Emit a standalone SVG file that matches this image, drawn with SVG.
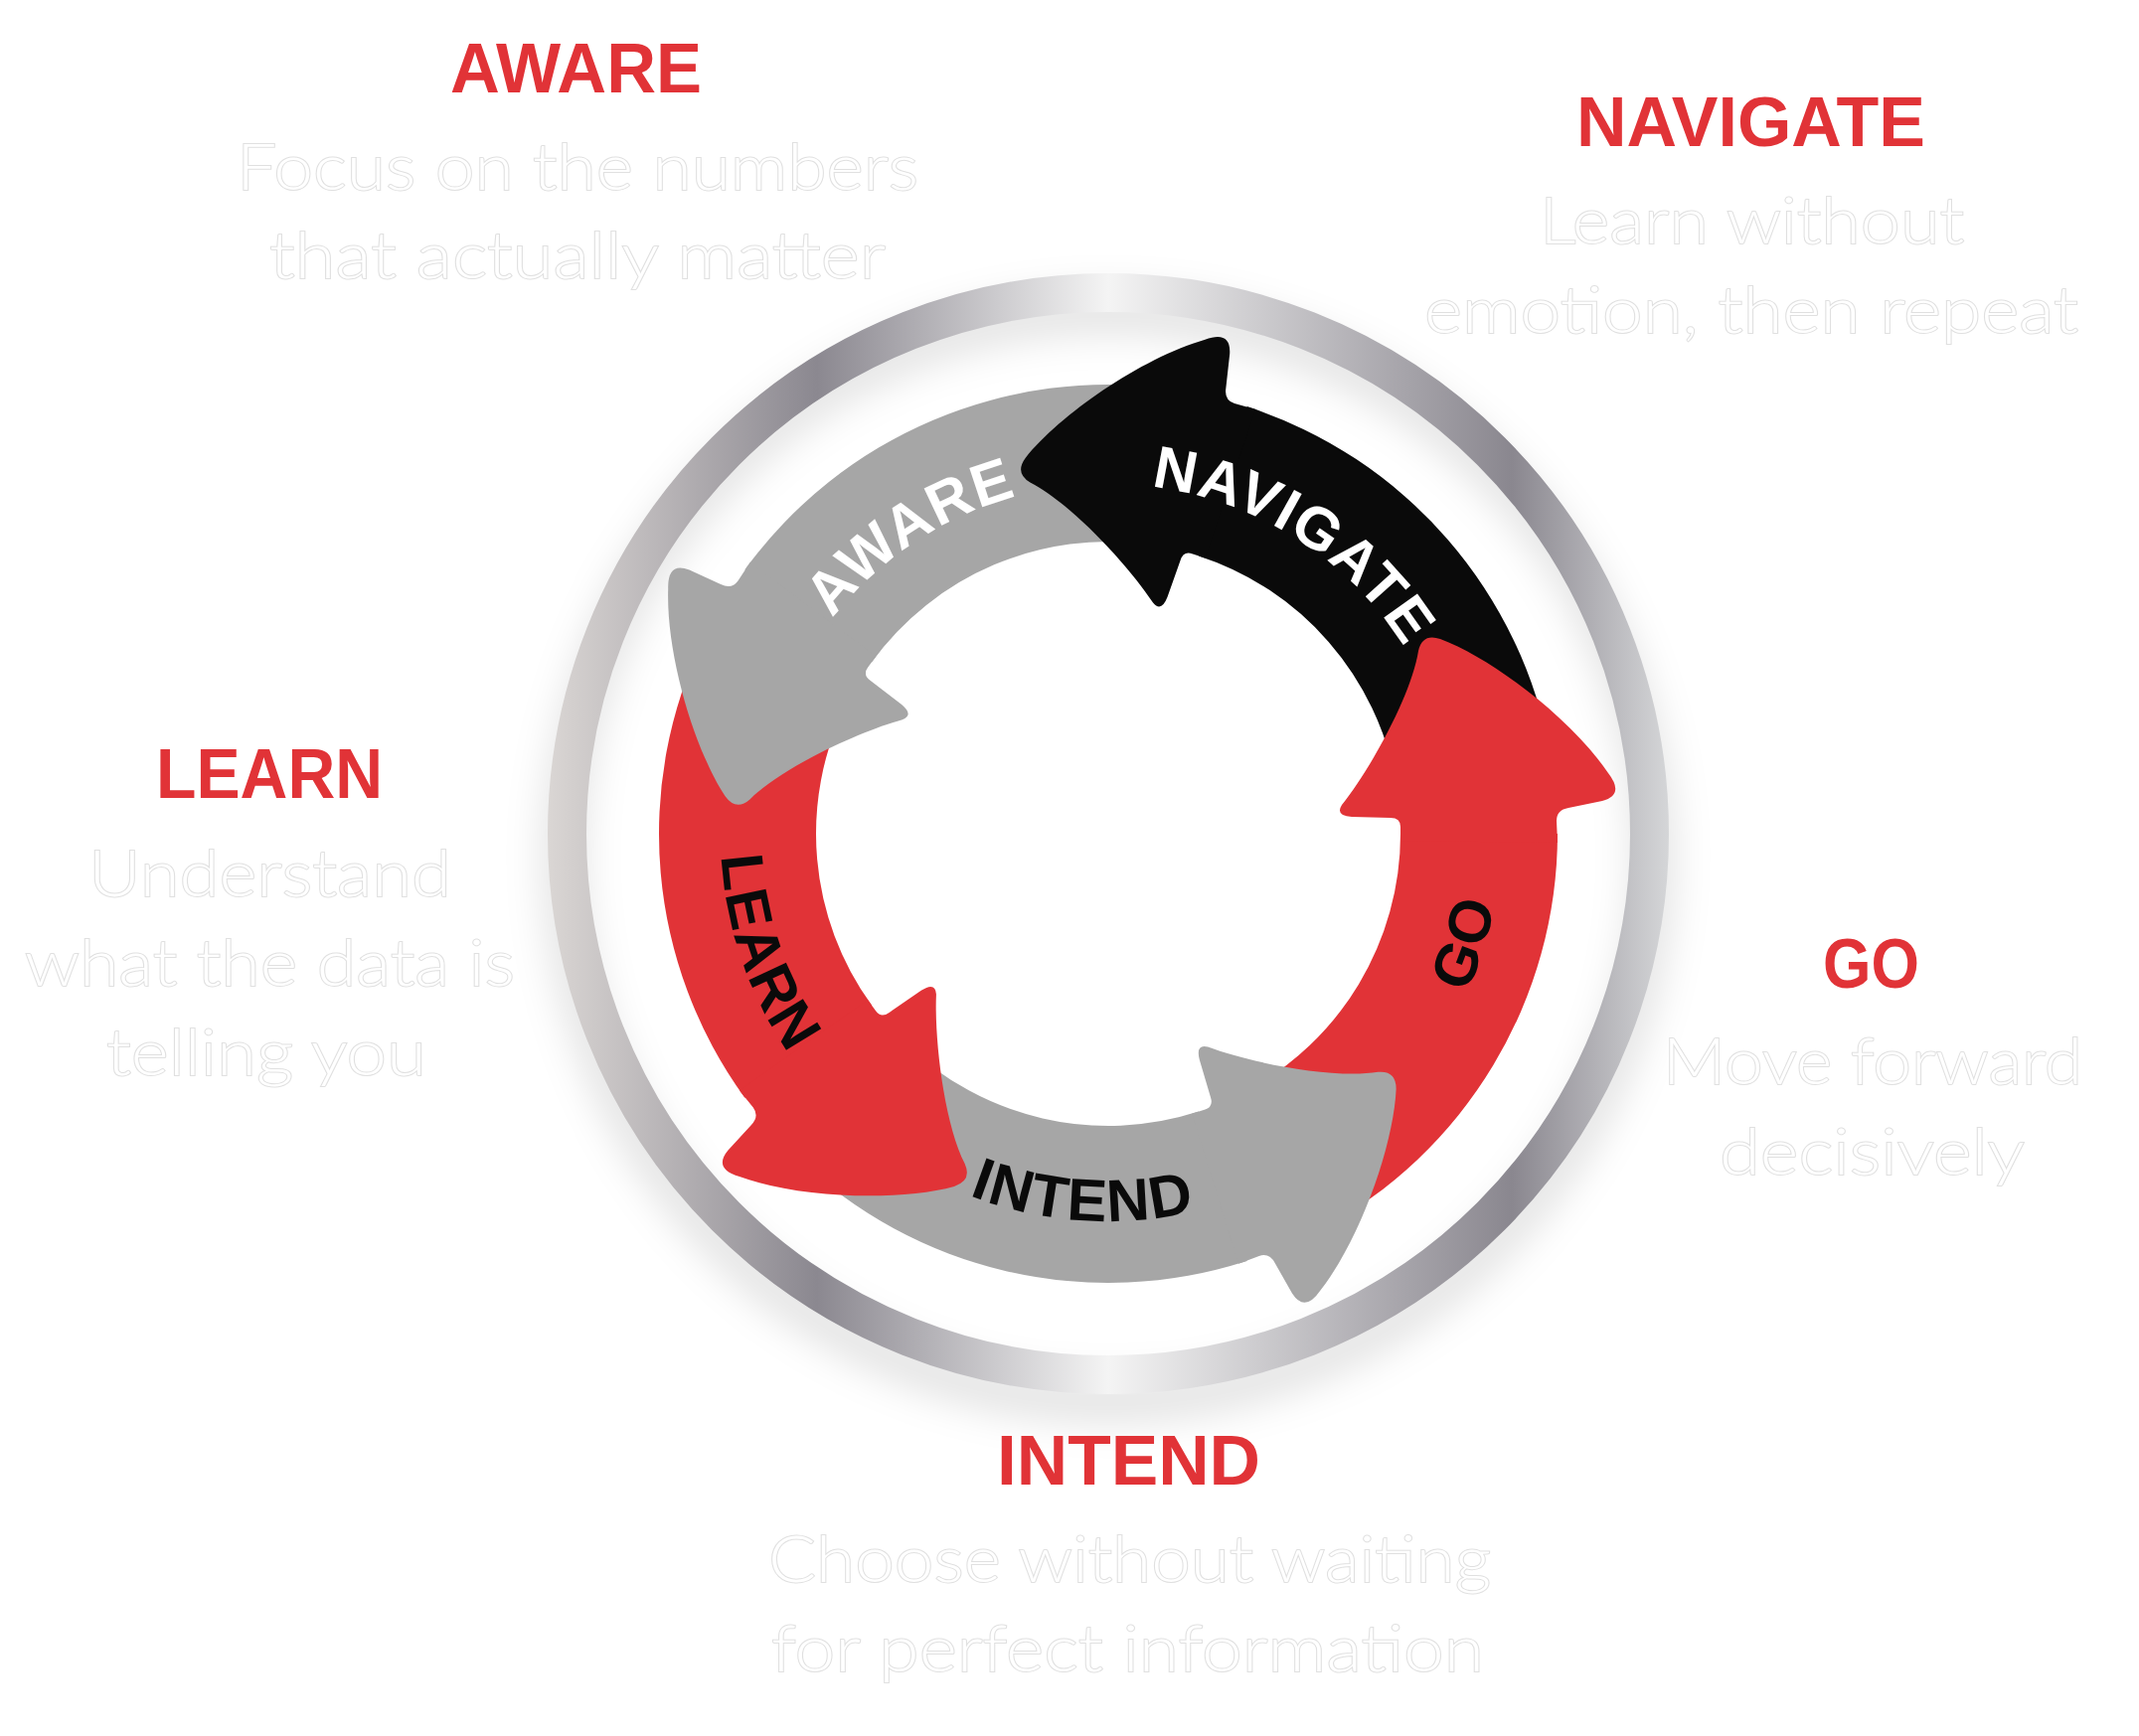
<svg xmlns="http://www.w3.org/2000/svg" xmlns:xlink="http://www.w3.org/1999/xlink" width="2152" height="1747" viewBox="0 0 2152 1747">
<style>
.h{font-family:"Liberation Sans",Arial,sans-serif;font-weight:700;font-size:71px;fill:#e13337}
.d{font-family:Lato,"Open Sans",sans-serif;font-weight:300;font-size:66px;fill:#ffffff;stroke:#e0e0e0;stroke-width:2;paint-order:stroke}
.lbl{font-family:"Liberation Sans",Arial,sans-serif;font-weight:700;font-size:60px;letter-spacing:1.5px}
.red{fill:#e13337}.blk{fill:#0a0a0a}.gry{fill:#a6a6a6}
</style>
<defs>
<linearGradient id="ringGrad" gradientUnits="userSpaceOnUse" x1="551" y1="0" x2="1679" y2="0">
<stop offset="0" stop-color="#dad6d4"/>
<stop offset="0.24" stop-color="#8b8890"/>
<stop offset="0.5" stop-color="#f4f4f4"/>
<stop offset="0.86" stop-color="#8a878f"/>
<stop offset="1" stop-color="#d5d6d8"/>
</linearGradient>
<filter id="blur" x="-20%" y="-20%" width="140%" height="140%"><feGaussianBlur stdDeviation="18"/></filter>
<path id="body" d="M 1567,839 A 452 452 0 0 1 1327.2,1238.1 L 1253.0,1098.6 A 294 294 0 0 0 1409,839 Z"/>
<path id="head" d="M 1409,846 L 1409,832 Q 1409,823 1399,823 L 1360,822 Q 1343,821 1350,810 C 1378,775 1420,700 1427,655 Q 1431,637 1449,643 C 1500,662 1580,722 1618,778 Q 1635,800 1612,806 L 1578,813 Q 1566,815 1566,826 L 1567,848 Z"/>
<path id="tpGo" d="M 1203.9,1223.9 A 395 395 0 0 0 1403.9,569.6"/>
<path id="tpIntend" d="M 764.5,1010 A 390 390 0 0 0 1438.3,1057.1"/>
<path id="tpLearn" d="M 820.7,583.1 A 390 390 0 0 0 1040.6,1221.8"/>
<path id="tpNav" d="M 952.5,526.8 A 352 352 0 0 1 1466.7,854.4"/>
<path id="tpAware" d="M 763.7,860.5 A 352 352 0 0 1 1272.1,524"/>
</defs>
<rect width="2152" height="1747" fill="#ffffff"/>
<g id="ring">
<circle cx="1115" cy="862" r="548" fill="none" stroke="#000" stroke-opacity="0.10" stroke-width="46" filter="url(#blur)"/>
<circle cx="1115" cy="839" r="544.5" fill="none" stroke="url(#ringGrad)" stroke-width="39"/>
</g>
<g id="connectors">
<g id="arrow-bodies">
<use xlink:href="#body" class="red"/>
<use xlink:href="#body" class="blk" transform="rotate(-72 1115 839)"/>
<use xlink:href="#body" class="gry" transform="rotate(-144 1115 839)"/>
<use xlink:href="#body" class="red" transform="rotate(144 1115 839)"/>
<use xlink:href="#body" class="gry" transform="rotate(72 1115 839)"/>
</g>
<g id="arrow-heads">
<use xlink:href="#head" class="red"/>
<use xlink:href="#head" class="blk" transform="rotate(-72 1115 839)"/>
<use xlink:href="#head" class="gry" transform="rotate(-144 1115 839)"/>
<use xlink:href="#head" class="red" transform="rotate(144 1115 839)"/>
<use xlink:href="#head" class="gry" transform="rotate(72 1115 839)"/>
</g>
</g>
<g id="arrow-labels">
<text class="lbl" fill="#0a0a0a" text-anchor="middle"><textPath xlink:href="#tpGo" startOffset="50%">GO</textPath></text>
<text class="lbl" fill="#0a0a0a" text-anchor="middle"><textPath xlink:href="#tpIntend" startOffset="50%">INTEND</textPath></text>
<text class="lbl" fill="#0a0a0a" text-anchor="middle"><textPath xlink:href="#tpLearn" startOffset="50%">LEARN</textPath></text>
<text class="lbl" fill="#ffffff" text-anchor="middle"><textPath xlink:href="#tpNav" startOffset="50%">NAVIGATE</textPath></text>
<text class="lbl" fill="#ffffff" text-anchor="middle"><textPath xlink:href="#tpAware" startOffset="50%">AWARE</textPath></text>
</g>
<g id="node-aware">
<text class="h" x="453" y="93" textLength="253" lengthAdjust="spacingAndGlyphs">AWARE</text>
<text class="d" x="238" y="191" textLength="686" lengthAdjust="spacingAndGlyphs">Focus on the numbers</text>
<text class="d" x="271" y="280" textLength="620" lengthAdjust="spacingAndGlyphs">that actually matter</text>
</g>
<g id="node-navigate">
<text class="h" x="1586" y="147" textLength="351" lengthAdjust="spacingAndGlyphs">NAVIGATE</text>
<text class="d" x="1549" y="245" textLength="427" lengthAdjust="spacingAndGlyphs">Learn without</text>
<text class="d" x="1433" y="335" textLength="658" lengthAdjust="spacingAndGlyphs">emotion, then repeat</text>
</g>
<g id="node-learn">
<text class="h" x="157" y="803" textLength="228" lengthAdjust="spacingAndGlyphs">LEARN</text>
<text class="d" x="89" y="902" textLength="365" lengthAdjust="spacingAndGlyphs">Understand</text>
<text class="d" x="25" y="992" textLength="493" lengthAdjust="spacingAndGlyphs">what the data is</text>
<text class="d" x="107" y="1082" textLength="322" lengthAdjust="spacingAndGlyphs">telling you</text>
</g>
<g id="node-go">
<text class="h" x="1834" y="994" textLength="97" lengthAdjust="spacingAndGlyphs">GO</text>
<text class="d" x="1673" y="1091" textLength="422" lengthAdjust="spacingAndGlyphs">Move forward</text>
<text class="d" x="1730" y="1182" textLength="307" lengthAdjust="spacingAndGlyphs">decisively</text>
</g>
<g id="node-intend">
<text class="h" x="1003" y="1494" textLength="265" lengthAdjust="spacingAndGlyphs">INTEND</text>
<text class="d" x="773" y="1592" textLength="727" lengthAdjust="spacingAndGlyphs">Choose without waiting</text>
<text class="d" x="776" y="1682" textLength="717" lengthAdjust="spacingAndGlyphs">for perfect information</text>
</g>
</svg>
